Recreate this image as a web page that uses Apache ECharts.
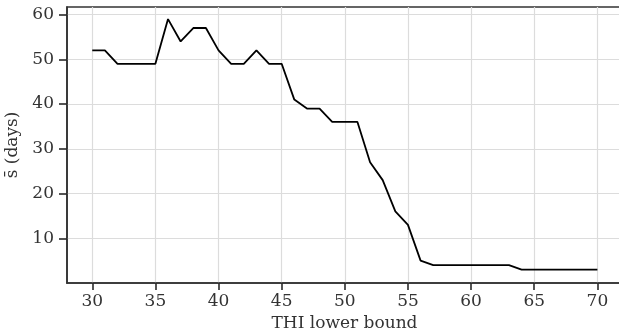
<!DOCTYPE html>
<html>
<head>
<meta charset="utf-8">
<script src="https://cdn.jsdelivr.net/npm/echarts@6/dist/echarts.min.js"></script>
<style>
  html, body { margin: 0; padding: 0; background: #fff; }
  #chart { width: 619px; height: 335px; }
</style>
</head>
<body>
<div id="chart"></div>
<script>
const thiBounds = [30, 31, 32, 33, 34, 35, 36, 37, 38, 39, 40, 41, 42, 43, 44, 45, 46, 47, 48, 49, 50,
  51, 52, 53, 54, 55, 56, 57, 58, 59, 60, 61, 62, 63, 64, 65, 66, 67, 68, 69, 70]
const meanDays = [52, 52, 49, 49, 49, 49, 59, 54, 57, 57, 52, 49, 49, 52, 49, 49, 41, 39, 39, 36, 36,
  36, 27, 23, 16, 13, 5, 4, 4, 4, 4, 4, 4, 4, 3, 3, 3, 3, 3, 3, 3]
const xTicks = [30, 35, 40, 45, 50, 55, 60, 65, 70]
const yTicks = [10, 20, 30, 40, 50, 60]

const font = 'DejaVu Serif'
const axisColor = '#333'
const textColor = '#333'

const chart = echarts.init(document.getElementById('chart'))

chart.setOption({
  animation: false,
  grid: {
    left: 67,
    right: -3,
    top: 7,
    bottom: 52,
    outerBoundsMode: 'none',
    show: true,
    borderColor: axisColor,
    borderWidth: 1.6
  },
  xAxis: {
    type: 'value',
    min: 28,
    max: 71.95,
    name: 'THI lower bound',
    nameLocation: 'middle',
    nameGap: 30,
    nameTextStyle: { fontFamily: font, fontSize: 17, color: textColor },
    axisLine: { show: true, lineStyle: { color: axisColor, width: 1.6 } },
    axisTick: { show: true, length: 7, lineStyle: { color: '#2a2a2a', width: 1.6 }, customValues: xTicks },
    // margin kept below tick length so the ticks stay drawn; padding pushes text down
    axisLabel: { fontFamily: font, fontSize: 17, color: textColor, margin: 6, padding: [4, 0, 0, 0], customValues: xTicks },
    splitLine: { show: true, lineStyle: { color: '#dcdcdc', width: 1.2 } }
  },
  yAxis: {
    type: 'value',
    min: 0,
    max: 61.7,
    name: 's\u0304 (days)',
    nameLocation: 'middle',
    nameGap: 42,
    nameTextStyle: { fontFamily: font, fontSize: 17, color: textColor },
    axisLine: { show: true, lineStyle: { color: axisColor, width: 1.6 } },
    axisTick: { show: true, length: 8, lineStyle: { color: '#2a2a2a', width: 1.6 }, customValues: yTicks },
    axisLabel: { fontFamily: font, fontSize: 17, color: textColor, margin: 7, padding: [0, 6, 0, 0], customValues: yTicks },
    splitLine: { show: true, lineStyle: { color: '#dcdcdc', width: 1.2 } }
  },
  series: [{
    type: 'line',
    data: thiBounds.map((x, i) => [x, meanDays[i]]),
    showSymbol: false,
    lineStyle: { color: '#000', width: 1.8 }
  }]
})
</script>
</body>
</html>
